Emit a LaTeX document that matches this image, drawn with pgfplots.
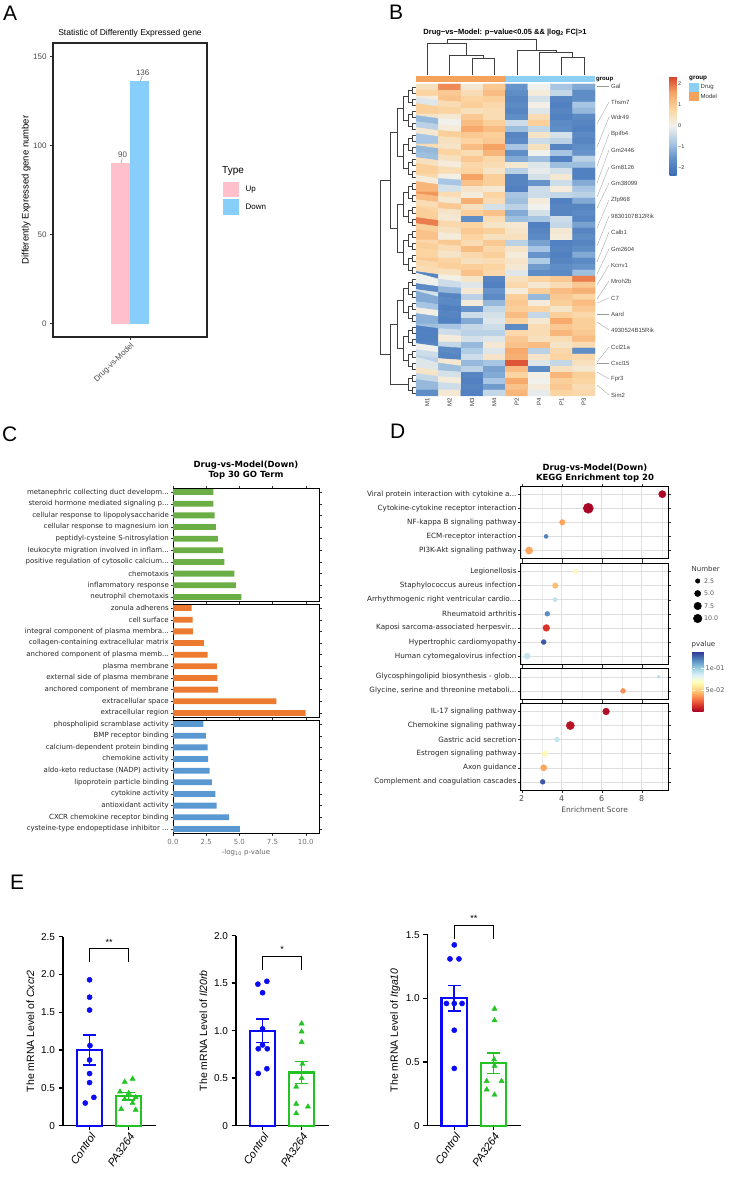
\documentclass[border=0pt]{standalone}
\usepackage{fontspec}
\setmainfont{Liberation Sans}
\newfontfamily\dv{DejaVu Sans}
\usepackage{pgfplots}
\pgfplotsset{compat=1.18}

\newcommand{\fs}[1]{\fontsize{#1}{#1}\selectfont}
\newcommand{\dd}{.\kern0pt.\kern0pt.}

\definecolor{upc}{HTML}{FFC0CB}
\definecolor{downc}{HTML}{87CEFA}
\definecolor{modelc}{HTML}{F4A25C}
\definecolor{drugc}{HTML}{8CCFF2}
\definecolor{bpc}{HTML}{6AAE45}
\definecolor{ccc}{HTML}{EC7A30}
\definecolor{mfc}{HTML}{5A98D2}
\definecolor{ecb}{HTML}{0A0AF5}
\definecolor{ecg}{HTML}{22C322}
\definecolor{txtg}{HTML}{4D4D4D}

\tikzset{
  gostrip/.style={rotate=-90, anchor=south, minimum width=113pt, minimum height=11pt, inner sep=0pt, font=\dv\fs{6.3}, text=black!80},
  kstrip/.style={rotate=-90, anchor=south, minimum height=11pt, inner sep=0pt, fill=black!16, font=\dv\fs{4.5}, text=black!60},
}

\pgfplotsset{
  /pgf/number format/assume math mode=true,
  colormap={heat}{rgb255=(61,109,183) rgb255=(98,145,200) rgb255=(172,201,228) rgb255=(242,242,236) rgb255=(251,212,160) rgb255=(246,164,100) rgb255=(213,62,41)},
  colormap={rdylbu}{rgb255=(165,0,38) rgb255=(215,48,39) rgb255=(244,109,67) rgb255=(253,174,97) rgb255=(254,224,144) rgb255=(255,255,191) rgb255=(224,243,248) rgb255=(171,217,233) rgb255=(116,173,209) rgb255=(69,117,180) rgb255=(49,54,149)},
  dnd/.style={draw=black!75, line width=0.35pt, mark=none, forget plot},
  gobox/.style={anchor=north west, scale only axis, width=146pt, height=113pt,
    xmin=0, xmax=11, ymin=0.65, ymax=10.35, ytick={1,2,3,4,5,6,7,8,9,10},
    xtick={0,2.5,5,7.5,10}, xticklabels={{},{},{},{},{}},
    tick align=outside, major tick length=2.5pt, tick style={black!80, line width=0.4pt},
    axis line style={black, line width=0.8pt},
    yticklabel style={font=\dv\fs{7}, text=black!85, inner sep=1.5pt},
    xticklabel style={font=\dv\fs{7}, text=black!55}},
  keggbox/.style={anchor=north west, scale only axis, width=148pt,
    xmin=1.95, xmax=9.35, ymin=0.42, xtick={2,4,6,8}, minor xtick={3,5,7,9}, xticklabels={{},{},{},{}},
    grid=both, major grid style={black!13, line width=0.5pt}, minor grid style={black!7, line width=0.3pt},
    tick align=outside, major tick length=2.5pt, minor tick length=0pt,
    tick style={black!80, line width=0.4pt}, axis line style={black, line width=0.8pt},
    yticklabel style={font=\dv\fs{7.2}, text=black!85, inner sep=1.5pt},
    xticklabel style={font=\dv\fs{8}, text=black!70},
    colormap name=rdylbu, point meta min=0.0007, point meta max=0.137},
  kpts/.style={scatter, only marks, mark=*, scatter src=explicit,
    scatter/use mapped color={draw=mapped color, fill=mapped color},
    visualization depends on={1.3*sqrt(\thisrow{n})+0.2 \as \msz},
    scatter/@pre marker code/.append style={/tikz/mark size=\msz pt}},
  ebox/.style={anchor=south west, scale only axis, width=93pt, xmin=0.32, xmax=2.7, ymin=0,
    axis x line*=bottom, axis y line*=left, axis line style={line width=1.5pt},
    tick style={line width=1.5pt, black}, tick align=outside, major tick length=4.5pt,
    xtick={1,2}, xticklabels={Control,PA3264},
    xticklabel style={rotate=55, anchor=north east, font=\fs{11}\itshape, inner sep=1pt},
    yticklabel style={font=\fs{10}},
    ylabel style={at={(axis description cs:-0.35,0.5)}, anchor=center, font=\fs{10.5}},
    unbounded coords=jump, clip=false},
  ebar/.style={ybar, bar width=0.65, bar shift=0pt, fill=none, line width=2.2pt},
  eerr/.style={#1, line width=1.6pt, mark=none},
}

\begin{document}
\begin{tikzpicture}[x=1pt,y=1pt]
\useasboundingbox (0,0) rectangle (733,-1180);

% panel letters
\node[anchor=north west, inner sep=0, font=\fs{21}] at (3,-6) {A};
\node[anchor=north west, inner sep=0, font=\fs{21}] at (389,-5) {B};
\node[anchor=north west, inner sep=0, font=\fs{21}] at (2,-427) {C};
\node[anchor=north west, inner sep=0, font=\fs{21}] at (390,-424) {D};
\node[anchor=north west, inner sep=0, font=\fs{21}] at (10,-875) {E};

% ---------------- A ----------------
\begin{axis}[at={(53pt,-43pt)}, anchor=north west, scale only axis, width=154pt, height=294pt,
  xmin=-4, xmax=4, ymin=-7.5, ymax=157.5, xtick={0}, xticklabels={Drug-vs-Model}, ytick={0,50,100,150},
  tick pos=left, tick align=outside, major tick length=3pt, tick style={black!80, line width=0.6pt},
  axis line style={black!85, line width=1.1pt},
  yticklabel style={font=\fs{8}, text=txtg},
  xticklabel style={rotate=45, anchor=north east, font=\fs{8}, text=txtg, inner sep=1pt},
  ylabel={Differently Expressed gene number},
  ylabel style={at={(axis description cs:-0.175,0.5)}, anchor=center, font=\fs{9.5}},
  title={Statistic of Differently Expressed gene},
  title style={font=\fs{8.5}, at={(axis description cs:0.5,1)}, anchor=south, yshift=-4pt},
  clip=false]
\addplot[ybar, bar width=1, bar shift=0pt, fill=upc, draw=none] coordinates {(-0.5,90)};
\addplot[ybar, bar width=1, bar shift=0pt, fill=downc, draw=none] coordinates {(0.5,136)};
\draw[black!55, line width=0.4pt] (axis cs:-0.45,90.3) -- (axis cs:-0.4,93);
\draw[black!55, line width=0.4pt] (axis cs:0.55,136.3) -- (axis cs:0.64,139);
\node[font=\fs{8}, anchor=south, text=txtg, inner sep=1pt] at (axis cs:-0.38,92.5) {90};
\node[font=\fs{8}, anchor=south, text=txtg, inner sep=1pt] at (axis cs:0.66,138.8) {136};
\end{axis}
\node[anchor=west, font=\fs{10}, inner sep=0] at (222,-171) {Type};
\fill[upc] (222.7,-181.7) rectangle (239.3,-197.3);
\fill[downc] (222.7,-199.3) rectangle (239.3,-215);
\node[anchor=west, font=\fs{8}, inner sep=0] at (245.5,-189.5) {Up};
\node[anchor=west, font=\fs{8}, inner sep=0] at (245.5,-207) {Down};

% ---------------- B ----------------
\node[anchor=base, font=\bfseries\fs{7.5}] at (505,-34.5) {Drug−vs−Model: p−value<0.05 \&\& |log\textsubscript{2} FC|>1};
% column dendrogram
\begin{axis}[at={(416pt,-75pt)}, anchor=south west, scale only axis, width=179pt, height=36pt,
  xmin=-0.5, xmax=7.5, ymin=0, ymax=36, hide axis]
\addplot[dnd] coordinates {(2,0)(2,17)(3,17)(3,0)};
\addplot[dnd] coordinates {(1,0)(1,20)(2.5,20)(2.5,17)};
\addplot[dnd] coordinates {(0,0)(0,32)(1.75,32)(1.75,20)};
\addplot[dnd] coordinates {(6,0)(6,18)(7,18)(7,0)};
\addplot[dnd] coordinates {(5,0)(5,23)(6.5,23)(6.5,18)};
\addplot[dnd] coordinates {(4,0)(4,25)(5.75,25)(5.75,23)};
\addplot[dnd] coordinates {(0.875,32)(0.875,36)(4.875,36)(4.875,25)};
\end{axis}
% row dendrogram
\begin{axis}[at={(380pt,-84pt)}, anchor=north west, scale only axis, width=36pt, height=312pt,
  xmin=-36, xmax=0, ymin=-51.5, ymax=0.5, hide axis]
\pgfplotsinvokeforeach{0,...,25}{
  \addplot[dnd] table[row sep=\\, y expr=-(\thisrow{y}+2*#1)] {x y\\0 0\\-4 0\\-4 1\\0 1\\};
}
\pgfplotsinvokeforeach{0,...,12}{
  \addplot[dnd] table[row sep=\\, y expr=-(\thisrow{y}+4*#1)] {x y\\-4 0.5\\-8 0.5\\-8 2.5\\-4 2.5\\};
}
\pgfplotsinvokeforeach{0,...,5}{
  \addplot[dnd] table[row sep=\\, y expr=-(\thisrow{y}+8*#1)] {x y\\-8 1.5\\-13 1.5\\-13 5.5\\-8 5.5\\};
}
\addplot[dnd] coordinates {(-13,-3.5)(-19,-3.5)(-19,-11.5)(-13,-11.5)};
\addplot[dnd] coordinates {(-13,-19.5)(-19,-19.5)(-19,-27.5)(-13,-27.5)};
\addplot[dnd] coordinates {(-13,-35.5)(-19,-35.5)(-19,-43.5)(-13,-43.5)};
\addplot[dnd] coordinates {(-19,-7.5)(-26,-7.5)(-26,-23.5)(-19,-23.5)};
\addplot[dnd] coordinates {(-19,-39.5)(-26,-39.5)(-26,-49.5)(-8,-49.5)};
\addplot[dnd] coordinates {(-26,-15.5)(-36,-15.5)(-36,-44.5)(-26,-44.5)};
\end{axis}
% heatmap
\begin{axis}[at={(416pt,-84pt)}, anchor=north west, scale only axis, width=179pt, height=312pt,
  xmin=-0.5, xmax=7.5, ymin=-51.5, ymax=0.5, enlargelimits=false,
  axis line style={draw=none}, ytick=\empty, xtick={0,1,2,3,4,5,6,7}, xticklabels={M1,M2,M3,M4,P2,P4,P1,P3},
  major tick length=0pt, xticklabel style={rotate=90, anchor=east, font=\fs{6}, text=black!80, inner sep=2pt},
  colormap name=heat, point meta min=-2.33, point meta max=2.38, clip=false,
  colorbar, colorbar style={at={(parent axis.north west)}, anchor=north west, xshift=245pt, yshift=8pt,
    width=7pt, height=99pt, scale only axis, ytick={-2,-1,0,1,2}, yticklabels={−2,−1,0,1,2},
    yticklabel style={font=\fs{5.5}, text=black!80, inner sep=1.5pt}, major tick length=0pt,
    axis line style={draw=none}}]
\addplot[matrix plot*, mesh/cols=8, point meta=explicit]
  table[row sep=\\, x expr={mod(\coordindex,8)}, y expr={-floor(\coordindex/8)}, meta=c] {
c\\
0.5\\1.8\\0.3\\1.0\\-1.5\\0.0\\-0.8\\-1.2\\
0.8\\1.0\\0.6\\1.2\\-1.6\\0.2\\-0.5\\-1.6\\
0.2\\1.1\\0.8\\0.9\\-1.8\\-0.3\\-1.8\\-1.6\\
-0.2\\0.6\\0.9\\0.7\\-1.7\\0.1\\-1.9\\-0.8\\
0.9\\0.8\\0.5\\0.6\\-1.8\\-0.2\\-1.8\\-1.0\\
0.4\\0.3\\1.0\\0.6\\-1.6\\0.6\\-1.9\\-1.7\\
-1.0\\0.0\\1.2\\0.9\\-0.4\\0.9\\-1.7\\-1.8\\
-0.6\\0.2\\1.5\\1.2\\-0.9\\-0.5\\-1.6\\-1.9\\
0.3\\0.9\\1.0\\0.9\\-1.8\\0.4\\-0.3\\-1.7\\
-0.8\\0.5\\0.8\\1.0\\-1.7\\-0.4\\-0.6\\-1.8\\
0.6\\0.4\\1.2\\1.6\\-0.8\\0.5\\-1.8\\-1.6\\
-1.0\\0.8\\0.6\\1.3\\-1.6\\0.0\\-0.8\\-1.5\\
-0.9\\0.5\\1.0\\0.7\\-1.2\\-0.9\\-1.9\\-0.6\\
0.5\\0.2\\0.7\\0.6\\0.3\\-0.2\\-0.9\\-0.9\\
0.9\\0.6\\0.8\\0.4\\-0.6\\-0.1\\-0.3\\-1.9\\
0.7\\0.1\\1.6\\0.9\\-1.8\\-0.3\\0.3\\-1.9\\
0.2\\-0.8\\1.1\\0.9\\-1.8\\-1.5\\-0.4\\-1.2\\
1.3\\-0.3\\0.4\\0.3\\-1.9\\-0.4\\0.2\\-0.8\\
1.7\\0.6\\0.2\\0.8\\-0.8\\-0.4\\-0.5\\-0.6\\
1.2\\0.3\\1.4\\0.6\\-0.9\\0.2\\-1.9\\-1.2\\
0.6\\1.0\\0.5\\-0.3\\-0.6\\0.0\\-1.8\\-1.8\\
0.8\\0.4\\0.9\\1.1\\-1.2\\-0.3\\-1.8\\-1.7\\
0.9\\0.3\\-1.6\\0.6\\-0.9\\-0.8\\-0.4\\-1.8\\
1.9\\0.7\\0.8\\0.4\\0.3\\-1.9\\-0.5\\-1.3\\
0.9\\0.5\\1.0\\0.9\\0.4\\-1.8\\0.3\\-1.8\\
1.1\\0.2\\0.8\\0.5\\0.5\\-1.7\\0.2\\-1.6\\
0.7\\1.0\\0.6\\1.0\\-0.6\\-1.3\\-1.9\\-1.8\\
0.9\\0.6\\1.2\\0.7\\0.4\\-0.8\\-1.8\\-1.6\\
0.8\\0.4\\0.7\\0.9\\0.2\\-1.5\\-1.9\\-1.2\\
1.0\\0.8\\0.5\\0.6\\0.4\\-0.7\\-1.8\\-1.7\\
0.7\\0.9\\0.9\\0.8\\0.3\\-1.4\\-1.6\\-1.5\\
0.6\\0.5\\1.1\\0.7\\-0.2\\-1.6\\-1.7\\-0.9\\
-1.8\\0.1\\0.4\\-1.8\\0.5\\0.8\\1.0\\1.9\\
0.0\\-0.4\\-0.2\\-1.9\\0.7\\0.3\\0.6\\1.0\\
-1.7\\-1.0\\0.3\\-1.5\\0.2\\0.9\\1.2\\1.4\\
-0.3\\-1.8\\-0.6\\-1.7\\0.9\\-1.0\\1.0\\0.8\\
-1.2\\-1.7\\0.2\\-1.0\\1.0\\0.2\\0.9\\1.2\\
-0.8\\-1.9\\-1.5\\-0.5\\0.9\\0.8\\0.4\\1.0\\
0.1\\-1.8\\-0.4\\-0.3\\1.2\\-0.5\\0.9\\0.7\\
-1.1\\-1.9\\-1.2\\-0.2\\0.8\\0.3\\1.5\\0.9\\
-0.9\\-0.8\\-0.5\\-0.4\\-1.7\\0.6\\1.0\\0.9\\
-1.9\\-0.4\\-0.6\\-0.6\\0.7\\0.6\\1.3\\1.0\\
-1.9\\0.2\\-0.3\\-0.2\\1.0\\0.5\\0.6\\1.2\\
-1.8\\-0.5\\-1.0\\0.3\\1.1\\1.2\\0.4\\0.6\\
0.0\\-1.7\\-0.7\\-0.2\\1.5\\-0.6\\0.7\\-1.6\\
-0.4\\-1.8\\-0.4\\0.4\\1.4\\0.4\\0.8\\0.7\\
-0.6\\0.3\\-1.0\\-0.8\\2.2\\-0.2\\-0.5\\0.5\\
-0.2\\-0.9\\-0.6\\-1.3\\1.2\\-1.7\\0.5\\0.3\\
0.4\\-0.3\\-1.8\\-1.2\\0.8\\0.1\\1.3\\0.9\\
-0.5\\0.2\\-1.9\\-0.8\\1.5\\0.0\\0.9\\0.8\\
-1.0\\-0.4\\-1.8\\-1.4\\1.1\\0.2\\1.0\\0.6\\
-1.6\\0.3\\-1.9\\-0.5\\1.3\\-0.1\\0.8\\0.7\\
};
\addplot[fill=modelc, draw=none] coordinates {(-0.5,0.783)(3.5,0.783)(3.5,1.833)(-0.5,1.833)} -- cycle;
\addplot[fill=drugc, draw=none] coordinates {(3.5,0.783)(7.5,0.783)(7.5,1.833)(3.5,1.833)} -- cycle;
\end{axis}
\node[anchor=west, font=\bfseries\fs{6}, inner sep=0] at (596,-79.5) {group};
\node[anchor=west, font=\bfseries\fs{6.3}, inner sep=0] at (689,-78.5) {group};
\fill[drugc] (689,-82.7) rectangle (699,-91.7);
\fill[modelc] (689,-92) rectangle (699,-101);
\node[anchor=west, font=\fs{6}, inner sep=0, text=black!80] at (700.5,-87.3) {Drug};
\node[anchor=west, font=\fs{6}, inner sep=0, text=black!80] at (700.5,-96.8) {Model};
\foreach \yy/\gn/\off in {86/Gal/0, 102/Thsm7/22, 117/Wdr49/30, 134/Bpifb4/32, 150/Gm2446/33,
  167/Gm8126/30, 183/Gm38099/25, 200/Zfp968/28, 216/9830107B12Rik/30, 232/Calb1/30,
  249/Gm2604/25, 265/Kcnv1/20, 281/Mroh2b/18, 298/C7/5, 314/Aard/0, 330/4930524B15Rik/-8,
  347/Ccl21a/15, 363/Cxcl15/0, 379/Fpr3/-7, 395/Sim2/-10}{
  \draw[black!40, line width=0.3pt] (597,{-(\yy+\off)}) -- (609,-\yy);
  \node[anchor=west, font=\fs{6}, text=black!75, inner sep=0] at (611,-\yy) {\gn};
}

% ---------------- C ----------------
\node[font=\dv\bfseries\fs{8.5}, anchor=base] at (246,-467) {Drug-vs-Model(Down)};
\node[font=\dv\bfseries\fs{8.5}, anchor=base] at (246,-477.5) {Top 30 GO Term};
\begin{axis}[gobox, at={(173pt,-488pt)},
  yticklabels={{neutrophil chemotaxis}, {inflammatory response}, {chemotaxis}, {positive regulation of cytosolic calcium\dd}, {leukocyte migration involved in inflam\dd}, {peptidyl-cysteine S-nitrosylation}, {cellular response to magnesium ion}, {cellular response to lipopolysaccharide}, {steroid hormone mediated signaling p\dd}, {metanephric collecting duct developm\dd}}]
\addplot[xbar, bar width=0.5, fill=bpc, draw=none] coordinates {(5.16,1)(4.73,2)(4.63,3)(3.88,4)(3.76,5)(3.38,6)(3.23,7)(3.13,8)(3.05,9)(3.05,10)};
\node[gostrip, fill=bpc] at (rel axis cs:1.005,0.5) {Biological Process};
\end{axis}
\begin{axis}[gobox, at={(173pt,-604pt)},
  yticklabels={{extracellular region}, {extracellular space}, {anchored component of membrane}, {external side of plasma membrane}, {plasma membrane}, {anchored component of plasma memb\dd}, {collagen-containing extracellular matrix}, {integral component of plasma membra\dd}, {cell surface}, {zonula adherens}}]
\addplot[xbar, bar width=0.5, fill=ccc, draw=none] coordinates {(10.0,1)(7.79,2)(3.40,3)(3.35,4)(3.30,5)(2.60,6)(2.33,7)(1.50,8)(1.48,9)(1.40,10)};
\node[gostrip, fill=ccc] at (rel axis cs:1.005,0.5) {Cellular Component};
\end{axis}
\begin{axis}[gobox, at={(173pt,-720pt)},
  yticklabels={{cysteine-type endopeptidase inhibitor \dd}, {CXCR chemokine receptor binding}, {antioxidant activity}, {cytokine activity}, {lipoprotein particle binding}, {aldo-keto reductase (NADP) activity}, {chemokine activity}, {calcium-dependent protein binding}, {BMP receptor binding}, {phospholipid scramblase activity}},
  xticklabels={0.0,2.5,5.0,7.5,10.0},
  xlabel={-log\textsubscript{10} p-value}, xlabel style={font=\dv\fs{7}, text=black!60, inner sep=1pt}]
\addplot[xbar, bar width=0.5, fill=mfc, draw=none] coordinates {(5.03,1)(4.23,2)(3.28,3)(3.20,4)(2.93,5)(2.75,6)(2.65,7)(2.60,8)(2.48,9)(2.28,10)};
\node[gostrip, fill=mfc] at (rel axis cs:1.005,0.5) {Molecular Function};
\end{axis}

% ---------------- D ----------------
\node[font=\dv\bfseries\fs{8.5}, anchor=base] at (595,-470) {Drug-vs-Model(Down)};
\node[font=\dv\bfseries\fs{8.5}, anchor=base] at (595,-480.5) {KEGG Enrichment top 20};
\begin{axis}[keggbox, at={(520.7pt,-486pt)}, height=72.7pt, ymax=5.58, ytick={1,2,3,4,5},
  yticklabels={{PI3K-Akt signaling pathway}, {ECM-receptor interaction}, {NF-kappa B signaling pathway}, {Cytokine-cytokine receptor interaction}, {Viral protein interaction with cytokine a\dd}},
  colorbar, colorbar style={at={(parent axis.north east)}, anchor=north west, xshift=15.3pt, yshift=-165.7pt,
    width=11pt, height=60pt, scale only axis, ytick={0.05,0.1}, yticklabels={5e-02,1e-01},
    yticklabel style={font=\dv\fs{6.5}, text=black!65, inner sep=2pt}, major tick length=2.5pt,
    tick style={white, line width=0.5pt}, axis line style={draw=none}, grid=none}]
\addplot[kpts] table[row sep=\\, x=x, y=y, meta=p] {x y n p\\9.03 5 7 0.003\\5.33 4 14 0.002\\4.03 3 4 0.040\\3.22 2 2 0.120\\2.37 1 7 0.040\\};
\node[kstrip, minimum width=72.7pt] at (rel axis cs:1.003,0.5) {EnvIP};
\end{axis}
\begin{axis}[keggbox, at={(520.7pt,-563.3pt)}, height=101pt, ymax=7.58, ytick={1,2,3,4,5,6,7},
  yticklabels={{Human cytomegalovirus infection}, {Hypertrophic cardiomyopathy}, {Kaposi sarcoma-associated herpesvir\dd}, {Rheumatoid arthritis}, {Arrhythmogenic right ventricular cardio\dd}, {Staphylococcus aureus infection}, {Legionellosis}}]
\addplot[kpts] table[row sep=\\, x=x, y=y, meta=p] {x y n p\\4.70 7 2 0.066\\3.68 6 4 0.046\\3.67 5 2 0.092\\3.28 4 3 0.117\\3.23 3 6 0.015\\3.10 2 3 0.130\\2.27 1 5 0.090\\};
\node[kstrip, minimum width=101pt] at (rel axis cs:1.003,0.5) {HumanD};
\end{axis}
\begin{axis}[keggbox, at={(520.7pt,-668.7pt)}, height=30.3pt, ymax=2.58, ytick={1,2},
  yticklabels={{Glycine, serine and threonine metaboli\dd}, {Glycosphingolipid biosynthesis - glob\dd}}]
\addplot[kpts] table[row sep=\\, x=x, y=y, meta=p] {x y n p\\8.85 2 1 0.095\\7.07 1 3 0.035\\};
\node[kstrip, minimum width=30.3pt] at (rel axis cs:1.003,0.5) {Metab};
\end{axis}
\begin{axis}[keggbox, at={(520.7pt,-703.3pt)}, height=86.7pt, ymax=6.58, ytick={1,2,3,4,5,6},
  yticklabels={{Complement and coagulation cascades}, {Axon guidance}, {Estrogen signaling pathway}, {Gastric acid secretion}, {Chemokine signaling pathway}, {IL-17 signaling pathway}},
  xticklabels={2,4,6,8}, xlabel={Enrichment Score}, xlabel style={font=\dv\fs{7.5}, text=black!70, inner sep=1pt}]
\addplot[kpts] table[row sep=\\, x=x, y=y, meta=p] {x y n p\\6.22 6 6 0.004\\4.43 5 9 0.006\\3.77 4 3 0.090\\3.15 3 4 0.066\\3.10 2 5 0.040\\3.05 1 3 0.130\\};
\node[kstrip, minimum width=86.7pt] at (rel axis cs:1.003,0.5) {OrgaS};
\end{axis}
\node[anchor=west, font=\dv\fs{7}, text=black!80, inner sep=0] at (691.5,-568.5) {Number};
\node[anchor=west, font=\dv\fs{7}, text=black!80, inner sep=0] at (691.5,-644.5) {pvalue};
\begin{axis}[at={(690pt,-575pt)}, anchor=north west, scale only axis, width=10pt, height=50pt,
  xmin=690, xmax=700, ymin=-625, ymax=-575, hide axis, clip=false]
\addplot[scatter, only marks, mark=*, scatter src=explicit,
  scatter/use mapped color={draw=black, fill=black},
  visualization depends on={1.3*sqrt(\thisrow{n})+0.2 \as \msz},
  scatter/@pre marker code/.append style={/tikz/mark size=\msz pt}]
  table[row sep=\\, x=x, y=y, meta=n] {x y n\\697.7 -581 2.5\\697.7 -593.5 5\\697.7 -606 7.5\\697.7 -618.5 10\\};
\node[anchor=west, font=\dv\fs{6.3}, text=black!65, inner sep=0] at (axis cs:704,-581) {2.5};
\node[anchor=west, font=\dv\fs{6.3}, text=black!65, inner sep=0] at (axis cs:704,-593.5) {5.0};
\node[anchor=west, font=\dv\fs{6.3}, text=black!65, inner sep=0] at (axis cs:704,-606) {7.5};
\node[anchor=west, font=\dv\fs{6.3}, text=black!65, inner sep=0] at (axis cs:704,-618.5) {10.0};
\end{axis}

% ---------------- E ----------------
\begin{axis}[ebox, at={(63pt,-1125.7pt)}, height=189pt, ymax=2.5, ytick={0,0.5,1,1.5,2,2.5},
  yticklabels={0,0.5,1.0,1.5,2.0,2.5}, ylabel={The mRNA Level of \textit{Cxcr2}}]
\addplot[ebar, draw=ecb] coordinates {(1,1.0)};
\addplot[ebar, draw=ecg] coordinates {(2,0.39)};
\addplot[eerr=ecb] coordinates {(0.83,1.20)(1.17,1.20)(nan,nan)(1,0.80)(1,1.20)(nan,nan)(0.83,0.80)(1.17,0.80)};
\addplot[eerr=ecg] coordinates {(1.83,0.44)(2.17,0.44)(nan,nan)(2,0.34)(2,0.44)(nan,nan)(1.83,0.34)(2.17,0.34)};
\addplot[only marks, mark=*, ecb, mark size=2.6pt] coordinates {(1.0,1.93)(1.0,1.70)(1.0,1.53)(1.01,1.06)(1.0,0.87)(1.0,0.69)(1.0,0.57)(1.11,0.375)(0.89,0.30)};
\addplot[only marks, mark=triangle*, ecg, mark size=3pt] coordinates {(2.10,0.62)(1.90,0.58)(1.78,0.45)(2.0,0.43)(2.18,0.375)(1.90,0.35)(2.10,0.30)(1.81,0.22)(2.18,0.21)};
\addplot[black, line width=1.3pt, mark=none] coordinates {(1,2.16)(1,2.34)(2,2.34)(2,2.16)};
\node[font=\fs{9}] at (axis cs:1.5,2.42) {**};
\end{axis}
\begin{axis}[ebox, at={(236pt,-1125.7pt)}, height=190pt, ymax=2.0, ytick={0,0.5,1,1.5,2},
  yticklabels={0,0.5,1.0,1.5,2.0}, ylabel={The mRNA Level of \textit{Il20rb}}]
\addplot[ebar, draw=ecb] coordinates {(1,1.0)};
\addplot[ebar, draw=ecg] coordinates {(2,0.56)};
\addplot[eerr=ecb] coordinates {(0.83,1.125)(1.17,1.125)(nan,nan)(1,0.875)(1,1.125)(nan,nan)(0.83,0.875)(1.17,0.875)};
\addplot[eerr=ecg] coordinates {(1.83,0.675)(2.17,0.675)(nan,nan)(2,0.445)(2,0.675)(nan,nan)(1.83,0.445)(2.17,0.445)};
\addplot[only marks, mark=*, ecb, mark size=2.6pt] coordinates {(0.88,1.49)(1.11,1.52)(1.0,1.40)(1.0,1.02)(1.0,0.85)(0.89,0.81)(1.12,0.81)(1.11,0.60)(0.89,0.55)};
\addplot[only marks, mark=triangle*, ecg, mark size=3pt] coordinates {(2.0,1.075)(2.0,0.99)(2.0,0.88)(2.02,0.65)(2.0,0.50)(1.86,0.41)(1.86,0.23)(2.16,0.20)(1.86,0.13)};
\addplot[black, line width=1.3pt, mark=none] coordinates {(1,1.64)(1,1.78)(2,1.78)(2,1.64)};
\node[font=\fs{9}] at (axis cs:1.5,1.86) {*};
\end{axis}
\begin{axis}[ebox, at={(427.7pt,-1125.7pt)}, height=191pt, ymax=1.5, ytick={0,0.5,1,1.5},
  yticklabels={0,0.5,1.0,1.5}, ylabel={The mRNA Level of \textit{Itga10}}]
\addplot[ebar, draw=ecb] coordinates {(1,1.0)};
\addplot[ebar, draw=ecg] coordinates {(2,0.49)};
\addplot[eerr=ecb] coordinates {(0.83,1.10)(1.17,1.10)(nan,nan)(1,0.90)(1,1.10)(nan,nan)(0.83,0.90)(1.17,0.90)};
\addplot[eerr=ecg] coordinates {(1.83,0.57)(2.17,0.57)(nan,nan)(2,0.41)(2,0.57)(nan,nan)(1.83,0.41)(2.17,0.41)};
\addplot[only marks, mark=*, ecb, mark size=2.6pt] coordinates {(1.0,1.42)(0.89,1.31)(1.12,1.31)(0.8,0.96)(1.0,0.96)(1.2,0.96)(1.0,0.75)(1.0,0.45)};
\addplot[only marks, mark=triangle*, ecg, mark size=3pt] coordinates {(2.03,0.918)(2.03,0.827)(2.02,0.52)(2.03,0.47)(1.83,0.35)(2.21,0.35)(1.83,0.284)(2.03,0.243)};
\addplot[black, line width=1.3pt, mark=none] coordinates {(1,1.47)(1,1.573)(2,1.573)(2,1.47)};
\node[font=\fs{9}] at (axis cs:1.5,1.63) {**};
\end{axis}
\end{tikzpicture}
\end{document}
